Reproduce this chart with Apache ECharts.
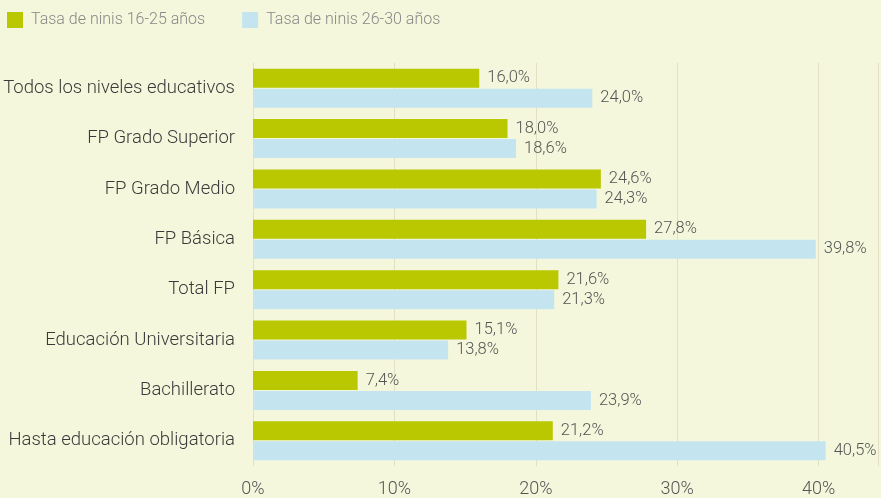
<!DOCTYPE html>
<html><head><meta charset="utf-8">
<script src="https://cdn.jsdelivr.net/npm/echarts@6/dist/echarts.min.js"></script>
<style>html,body{margin:0;padding:0;background:#f4f7db}#c{width:881px;height:498px}</style>
</head><body><div id="c"></div>
<script>
const categories = ["Todos los niveles educativos","FP Grado Superior","FP Grado Medio","FP Básica","Total FP","Educación Universitaria","Bachillerato","Hasta educación obligatoria"];
const ninis16_25 = [16.0,18.0,24.6,27.8,21.6,15.1,7.4,21.2];
const ninis26_30 = [24.0,18.6,24.3,39.8,21.3,13.8,23.9,40.5];
const seriesNames = ["Tasa de ninis 16-25 años","Tasa de ninis 26-30 años"];
const xTicks = [0,10,20,30,40];

const FONT = 'Roboto';
const fmt = v => v.toFixed(1).replace('.', ',') + '%';
const chart = echarts.init(document.getElementById('c'));
chart.setOption({
  backgroundColor: '#f4f7db',
  animation: false,
  legend: {
    left: 2, top: 7, itemWidth: 16, itemHeight: 16, itemGap: 37,
    icon: 'rect',
    textStyle: { fontFamily: FONT, fontSize: 16, color: '#888', fontWeight: 300, padding: [0,0,0,3] },
    data: seriesNames
  },
  grid: { left: 253, right: 0, top: 63, bottom: 32, containLabel: false },
  xAxis: {
    type: 'value', min: 0, max: 44.2, interval: 10,
    axisLine: { show: false }, axisTick: { show: false },
    splitLine: { show: true, lineStyle: { color: '#e2dfc4', width: 1 } },
    axisLabel: {
      margin: 14, fontFamily: FONT, fontSize: 18, color: '#555', fontWeight: 300,
      formatter: v => xTicks.includes(v) ? v + '%' : ''
    }
  },
  yAxis: {
    type: 'category', data: categories, inverse: true,
    axisLine: { show: false }, axisTick: { show: false },
    axisLabel: { margin: 18, fontFamily: FONT, fontSize: 18.5, color: '#3a3a3a', fontWeight: 300 }
  },
  series: [
    { name: seriesNames[0], type: 'bar', data: ninis16_25, barWidth: 19, barGap: '5%',
      itemStyle: { color: '#b9c800' },
      label: { show: true, position: 'right', distance: 8, formatter: p => fmt(p.value),
        fontFamily: FONT, fontSize: 16.5, color: '#555', fontWeight: 300 } },
    { name: seriesNames[1], type: 'bar', data: ninis26_30, barWidth: 19,
      itemStyle: { color: '#c4e5ef' },
      label: { show: true, position: 'right', distance: 8, formatter: p => fmt(p.value),
        fontFamily: FONT, fontSize: 16.5, color: '#555', fontWeight: 300 } }
  ]
});
</script></body></html>
